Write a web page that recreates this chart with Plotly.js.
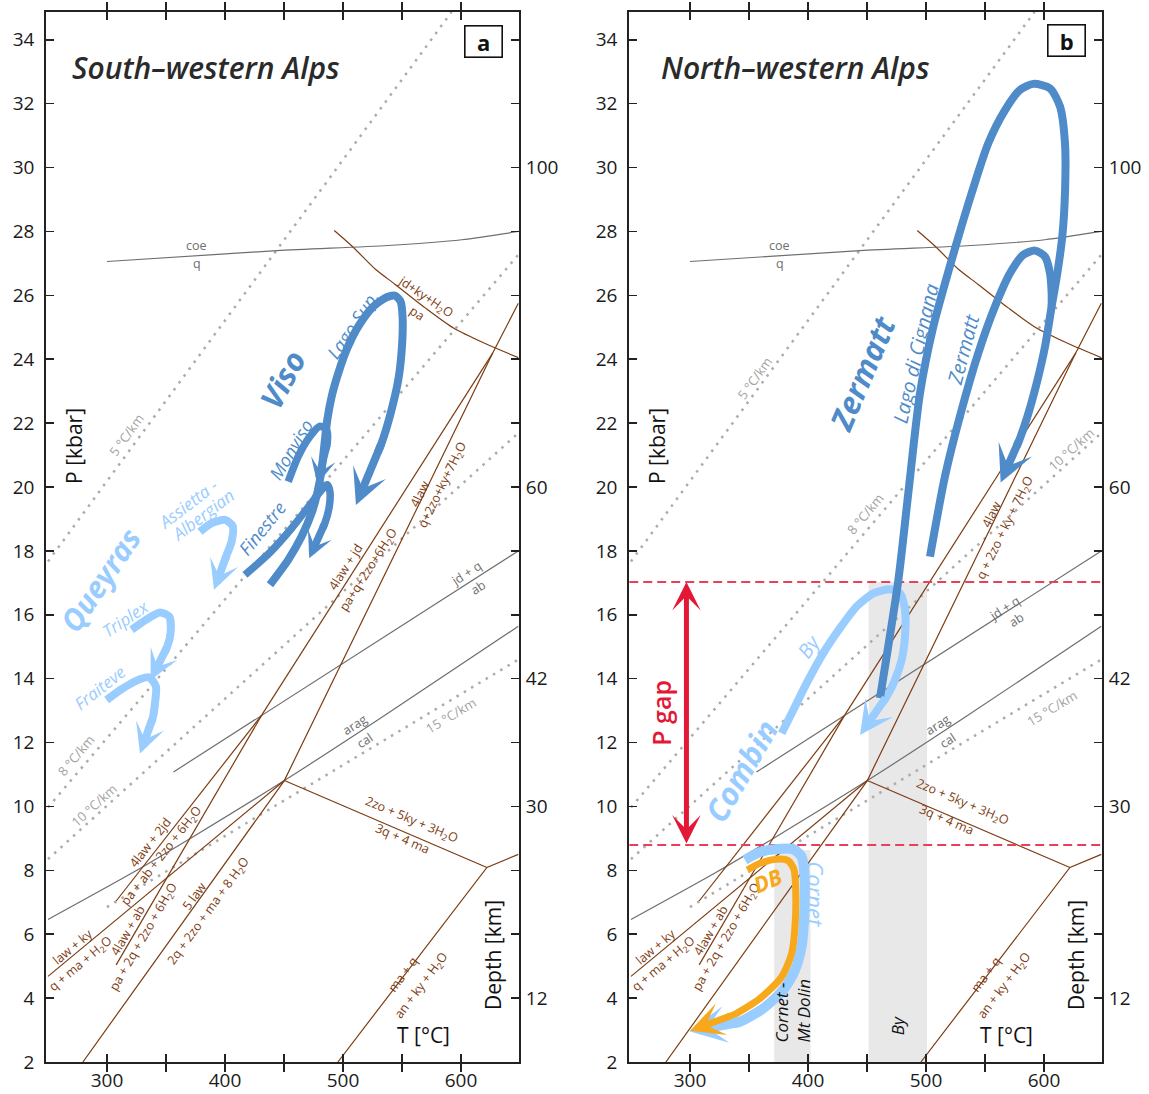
<!DOCTYPE html>
<html><head><meta charset="utf-8">
<script src="https://cdn.plot.ly/plotly-3.0.1.min.js"></script>
<style>body{margin:0;background:#fff}</style>
</head><body><div id="chart" style="width:1149px;height:1094px"></div>
<script>
// ================= DATA (T in °C, P in kbar) =================
// equilibrium / reaction lines (identical in both panels)
const coeQ_T = [300, 444, 538, 600.7, 648.6];
const coeQ_P = [27.06, 27.40, 27.56, 27.74, 28.00];
const jdKyPa_T = [492.6, 508, 528, 544, 570, 594, 620, 648.6];
const jdKyPa_P = [28.03, 27.53, 26.80, 26.35, 25.60, 24.97, 24.50, 24.05];
const law4jd_T = [431, 627];
const law4jd_P = [12.85, 24.2];
const law4_T = [279.6, 450.3, 627, 648.6];          // 5law / 4law reactions
const law4_P = [2.0, 10.81, 24.2, 25.75];
const law2jd_T = [307.8, 431];
const law2jd_P = [7.04, 12.85];
const law4ab_T = [307.8, 431];
const law4ab_P = [5.04, 12.85];
const lawKy_T = [250, 450.3];
const lawKy_P = [4.68, 10.81];
const zo5ky_T = [450.3, 622];
const zo5ky_P = [10.81, 8.09];
const maQ_T = [495.7, 622, 648.6];
const maQ_P = [2.0, 8.09, 8.5];
const jdQ_T = [356.4, 648.6];
const jdQ_P = [11.08, 18.0];
const aragCal_T = [250, 321.9, 372, 450.3, 531.7, 648.6];
const aragCal_P = [6.46, 7.93, 9.03, 10.81, 12.76, 15.64];
// geotherms
const geo5_T = [250, 592],   geo5_P = [17.67, 34.87];
const geo8_T = [250, 648.6], geo8_P = [9.97, 27.27];
const geo10_T = [250, 648.6], geo10_P = [8.35, 21.69];
const geo15_T = [300, 648.6], geo15_P = [6.85, 14.6];

// ---- panel a P-T paths ----
const lagoSup_T = [438.1,453.6,464.9,473.4,478.2,481.9,484.1,486.7,490.4,496.0,503.1,513.0,525.7,537.0,544.0,548.8,550.5,550.0,546.9,540.4,532.7];
const lagoSup_P = [16.94,17.72,18.45,19.18,19.81,20.54,21.27,22.10,22.83,23.56,24.30,25.03,25.65,25.94,25.99,25.81,25.34,24.40,23.36,22.31,21.37];
const lagoSupTip = [511, 19.44];
const monviso_T = [453.6,462.1,472.0,480.5,486.1,486.7];
const monviso_P = [20.17,20.96,21.58,21.90,21.79,21.37];
const monvisoTip = [478.2, 20.1];
const finestre_T = [416.9,438.1,456.5,472.0,481.9,486.7,488.9,488.4,484.7];
const finestre_P = [17.25,17.95,18.71,19.44,19.91,20.07,19.86,19.39,18.87];
const finestreTip = [471.4, 17.77];
const assietta_T = [378.8,388.7,400.0,406.5,405.6,401.4];
const assietta_P = [18.60,18.87,18.97,18.78,18.29,17.87];
const assiettaTip = [390.7, 16.78];
const triplex_T = [320.9,333.0,344.9,352.8,354.0,351.1];
const triplex_P = [15.53,15.84,16.07,15.94,15.47,15.00];
const triplexTip = [337, 13.96];
const fraiteve_T = [299.7,312.4,325.1,335.9,341.5,340.7,338.7];
const fraiteve_P = [13.33,13.67,13.94,14.04,13.75,13.23,12.76];
const fraiteveTip = [328, 11.66];

// ---- panel b P-T paths ----
const cignana_T = [461.0,476.6,485.0,494.9,506.2,521.8,538.7,552.8,567.0,579.7,591.0,605.1,613.6,617.8,617.8,615.5,611.3,606.5,600.9,593.8,585.9,579.1];
const cignana_P = [13.39,17.09,19.80,22.93,25.02,27.11,29.20,30.76,31.80,32.43,32.62,32.48,31.91,30.76,29.20,27.84,26.69,25.65,24.40,23.25,22.20,21.47];
const cignanaTip = [563.3, 20.14];
const zermatt_T = [503.4,516.1,530.2,544.3,558.5,571.2,582.5,592.4,600.9,605.1,606.5,606.5];
const zermatt_P = [17.82,20.33,22.41,24.19,25.65,26.69,27.27,27.40,27.21,26.69,26.06,25.65];
const by_T = [377.7,387.6,398.9,413.0,427.1,441.2,455.4,469.5,478.0,482.2,482.2,479.4,473.7,466.7];
const by_P = [12.29,13.02,13.86,14.80,15.58,16.26,16.67,16.80,16.67,16.15,15.32,14.59,13.96,13.44];
const byTip = [444.1, 12.24];
const cornet_T = [346.6,359.3,373.4,387.6,394.6,396.9,396.9,394.6,389.0,379.1,362.2,342.4];
const cornet_P = [8.33,8.57,8.67,8.66,8.43,7.91,6.66,5.61,4.88,4.26,3.68,3.26];
const cornetTip = [299.4, 2.96];
const db_T = [348.6,359.3,373.4,383.3,388.1,389.5,389.0,386.2,377.7,359.3,336.7];
const db_P = [8.01,8.22,8.35,8.30,8.03,7.49,6.24,5.40,4.67,3.99,3.47];
const dbTip = [300, 2.98];
// P gap and sample bands
const pGapLevels = [8.79, 17.03];
const pGapT = 297;
const bandCornet_T = [371.4, 402.2], bandCornet_P = [2, 8.64];
const bandBy_T = [451.4, 500.9], bandBy_P = [2, 17.03];

// axis ticks
const pTicks = [2,4,6,8,10,12,14,16,18,20,22,24,26,28,30,32,34];
const tTickVals = [300,350,400,450,500,550,600];
const tTickText = ['300','','400','','500','','600'];
const depthP = [4, 10, 14, 20, 30];
const depthKm = ['12','30','42','60','100'];

// ================= DRAWING =================
const FONT = '"Open Sans", "Noto Sans", sans-serif';
const BROWN = '#7d3c12', GRAY = '#6e6e6e', DOTC = '#ababab';
const DARKB = '#4f8bc9', LIGHTB = '#99ccff', ORANGE = '#f7a81b', RED = '#e31837';
const traces = [], annotations = [], shapes = [];
const XR = [248.5, 649], YR = [2, 34.87];
function ax(p){ return p === 'a' ? {x:'x', y:'y'} : {x:'x2', y:'y2'}; }
function line(p, T, P, color, width, dash, shape){
  const a = ax(p);
  traces.push({type:'scatter', mode:'lines', x:T, y:P, xaxis:a.x, yaxis:a.y,
    line:{color:color, width:width, dash:dash || 'solid', shape: shape || 'linear', smoothing:0.7},
    hoverinfo:'skip', showlegend:false});
}
function txt(p, s, T, P, ang, font, extra){
  const a = ax(p);
  annotations.push(Object.assign({xref:a.x, yref:a.y, x:T, y:P, text:s, textangle:ang, showarrow:false,
    xanchor:'center', yanchor:'middle', font:Object.assign({family:FONT, size:12.5, color:BROWN}, font||{})}, extra||{}));
}
function arrowPath(p, T, P, tip, color, width, head){
  const a = ax(p);
  const n = T.length;
  const eT = T[n-1] + 0.15*(tip[0]-T[n-1]);
  const eP = P[n-1] + 0.15*(tip[1]-P[n-1]);
  line(p, T.concat([eT]), P.concat([eP]), color, width, 'solid', 'spline');
  annotations.push({xref:a.x, yref:a.y, axref:a.x, ayref:a.y, x:tip[0], y:tip[1], ax:T[n-1], ay:P[n-1],
    text:'', showarrow:true, arrowhead:3, arrowsize:head, arrowwidth:width, arrowcolor:color,
    standoff:0, startstandoff:0, font:{size:1}});
}

['a','b'].forEach(function(p){
  // geotherms (dotted)
  [[geo5_T,geo5_P],[geo8_T,geo8_P],[geo10_T,geo10_P],[geo15_T,geo15_P]].forEach(function(g){
    line(p, g[0], g[1], DOTC, 2.5, '2.5px,6px');
  });
  // gray equilibria
  line(p, coeQ_T, coeQ_P, GRAY, 1.2, 'solid', 'spline');
  line(p, jdQ_T, jdQ_P, GRAY, 1.2);
  line(p, aragCal_T, aragCal_P, GRAY, 1.2, 'solid', 'spline');
  // brown reactions
  line(p, jdKyPa_T, jdKyPa_P, BROWN, 1.2, 'solid', 'spline');
  line(p, law4jd_T, law4jd_P, BROWN, 1.2);
  line(p, law4_T, law4_P, BROWN, 1.2);
  line(p, law2jd_T, law2jd_P, BROWN, 1.2);
  line(p, law4ab_T, law4ab_P, BROWN, 1.2);
  line(p, lawKy_T, lawKy_P, BROWN, 1.2);
  line(p, zo5ky_T, zo5ky_P, BROWN, 1.2);
  line(p, maQ_T, maQ_P, BROWN, 1.2);
  // gray labels
  txt(p, 'coe', 376, 27.55, 0, {color:GRAY});
  txt(p, 'q', 376, 26.99, 0, {color:GRAY});
  txt(p, 'arag', 510.3, 12.55, -33, {color:GRAY});
  txt(p, 'cal', 518.8, 12.05, -33, {color:GRAY});
  // common brown labels
  txt(p, 'law + ky', 271, 5.62, -40);
  txt(p, 'q + ma + H<sub>2</sub>O', 277.5, 5.06, -40);
  txt(p, '4law + ab', 317.5, 6.12, -60);
  txt(p, 'pa + 2q + 2zo + 6H<sub>2</sub>O', 331, 5.9, -60);
  txt(p, 'ma + q', 550.7, 4.74, -53);
  txt(p, 'an + ky + H<sub>2</sub>O', 566.7, 4.4, -53);
  // axis titles inside frame
  txt(p, 'P [kbar]', 272.5, 21.27, -90, {size:21, color:'#111'});
  txt(p, 'Depth [km]', 626.5, 5.36, -90, {size:21, color:'#111'});
  txt(p, 'T [°C]', 568.5, 2.84, 0, {size:21, color:'#111'});
});

// ---- panel a specific labels ----
txt('a', 'jd+ky+H<sub>2</sub>O', 570, 25.94, 34);
txt('a', 'pa', 563, 25.44, 34);
txt('a', '4law + jd', 502.5, 17.5, -57.5);
txt('a', 'pa+q+2zo+6H<sub>2</sub>O', 521.5, 17.4, -57.5);
txt('a', '4law', 564.6, 19.78, -64);
txt('a', 'q+2zo+ky+7H<sub>2</sub>O', 585, 20.07, -64);
txt('a', '2zo + 5ky + 3H<sub>2</sub>O', 558.4, 9.56, 23);
txt('a', '3q + 4 ma', 550.5, 9.0, 23);
txt('a', '4law + 2jd', 336.6, 8.87, -52);
txt('a', 'pa + ab + 2zo + 6H<sub>2</sub>O', 347, 8.45, -52);
txt('a', '5 law', 373.6, 7.19, -54);
txt('a', '2q + 2zo + ma + 8 H<sub>2</sub>O', 386, 6.72, -54);
txt('a', 'jd + q', 604.4, 17.28, -33, {color:GRAY});
txt('a', 'ab', 614.7, 16.84, -33, {color:GRAY});
txt('a', '5 °C/km', 316.3, 21.64, -54, {size:13, color:'#a3a3a3'});
txt('a', '8 °C/km', 274, 11.6, -50, {size:13, color:'#a3a3a3'});
txt('a', '10 °C/km', 289, 10.05, -42, {size:13, color:'#a3a3a3'});
txt('a', '15 °C/km', 591.9, 12.86, -31, {size:13, color:'#a3a3a3'});

// ---- panel b specific labels ----
txt('b', '4law', 555.4, 19.14, -64);
txt('b', 'q + 2zo + ky + 7H<sub>2</sub>O', 567.7, 18.72, -64);
txt('b', '2zo + 5ky + 3H<sub>2</sub>O', 530.8, 10.13, 23);
txt('b', '3q + 4 ma', 517.5, 9.59, 23);
txt('b', 'jd + q', 566.2, 16.2, -33, {color:GRAY});
txt('b', 'ab', 576.9, 15.85, -33, {color:GRAY});
txt('b', '5 °C/km', 355, 23.4, -54, {size:13, color:'#a3a3a3'});
txt('b', '8 °C/km', 448.3, 19.16, -50, {size:13, color:'#a3a3a3'});
txt('b', '10 °C/km', 623, 21.2, -42, {size:13, color:'#a3a3a3'});
txt('b', '15 °C/km', 606.8, 13.09, -31, {size:13, color:'#a3a3a3'});

// ---- bands & P gap (panel b) ----
shapes.push({type:'rect', xref:'x2', yref:'y2', x0:bandCornet_T[0], x1:bandCornet_T[1], y0:bandCornet_P[0], y1:bandCornet_P[1], fillcolor:'#e8e8e8', line:{width:0}, layer:'below'});
shapes.push({type:'rect', xref:'x2', yref:'y2', x0:bandBy_T[0], x1:bandBy_T[1], y0:bandBy_P[0], y1:bandBy_P[1], fillcolor:'#e8e8e8', line:{width:0}, layer:'below'});
pGapLevels.forEach(function(lv){ line('b', XR, [lv, lv], '#e8405a', 2, '9px,5px'); });
annotations.push({xref:'x2', yref:'y2', axref:'x2', ayref:'y2', x:pGapT, y:pGapLevels[1], ax:pGapT, ay:pGapLevels[0],
  text:'', showarrow:true, arrowside:'end+start', arrowhead:3, startarrowhead:3, arrowsize:0.95, startarrowsize:0.95,
  arrowwidth:5, arrowcolor:RED, standoff:0, startstandoff:0, font:{size:1}});

// ---- P-T paths ----
arrowPath('a', assietta_T, assietta_P, assiettaTip, LIGHTB, 8, 0.62);
arrowPath('a', triplex_T, triplex_P, triplexTip, LIGHTB, 8, 0.62);
arrowPath('a', fraiteve_T, fraiteve_P, fraiteveTip, LIGHTB, 8, 0.62);
arrowPath('a', finestre_T, finestre_P, finestreTip, DARKB, 7.5, 0.58);
arrowPath('a', monviso_T, monviso_P, monvisoTip, DARKB, 7.5, 0.56);
arrowPath('a', lagoSup_T, lagoSup_P, lagoSupTip, DARKB, 8, 0.74);

arrowPath('b', by_T, by_P, byTip, LIGHTB, 8, 0.7);
arrowPath('b', cignana_T, cignana_P, cignanaTip, DARKB, 8, 0.76);
line('b', zermatt_T, zermatt_P, DARKB, 8, 'solid', 'spline');
arrowPath('b', cornet_T, cornet_P, cornetTip, LIGHTB, 10, 0.62);
arrowPath('b', db_T, db_P, dbTip, ORANGE, 7, 0.8);

// ---- path names ----
const BI = {weight:'bold', style:'italic'};
txt('a', 'Viso', 448.6, 23.38, -62, Object.assign({size:31, color:DARKB}, BI));
txt('a', 'Lago Sup.', 507.9, 25.08, -56, {size:18, color:DARKB, style:'italic'});
txt('a', 'Monviso', 455.6, 21.16, -59, {size:18, color:DARKB, style:'italic'});
txt('a', 'Finestre', 431.6, 18.71, -51, {size:18, color:DARKB, style:'italic'});
txt('a', 'Queyras', 294.6, 17.09, -56, Object.assign({size:30, color:LIGHTB}, BI));
txt('a', 'Assietta -', 368.9, 19.47, -37.5, {size:17, color:LIGHTB, style:'italic'});
txt('a', 'Albergian', 381.6, 19.13, -37, {size:17, color:LIGHTB, style:'italic'});
txt('a', 'Triplex', 315.8, 15.87, -34, {size:17, color:LIGHTB, style:'italic'});
txt('a', 'Fraiteve', 294, 13.73, -38, {size:17, color:LIGHTB, style:'italic'});

txt('b', 'Zermatt', 446, 23.56, -67, Object.assign({size:31, color:DARKB}, BI));
txt('b', 'Lago di Cignana', 491, 24.19, -77, {size:20, color:DARKB, style:'italic'});
txt('b', 'Zermatt', 531.5, 24.3, -75, {size:20, color:DARKB, style:'italic'});
txt('b', 'By', 400.3, 15.02, -55, {size:20, color:LIGHTB, style:'italic'});
txt('b', 'Combin', 342.9, 11.12, -60, Object.assign({size:31, color:LIGHTB}, BI));
txt('b', 'DB', 365.5, 7.7, -22, Object.assign({size:22, color:ORANGE}, BI));
txt('b', 'Cornet', 406.5, 7.26, 90, {size:22, color:LIGHTB, style:'italic'});
txt('b', 'P gap', 276, 12.92, -90, {size:25, color:RED, weight:600});
txt('b', 'Cornet -<br>Mt Dolin', 386.7, 3.62, -90, {size:17, color:'#111', style:'italic'}, {align:'left'});
txt('b', 'By', 475.4, 3.15, -90, {size:17, color:'#111', style:'italic'});

// ---- panel titles and letters ----
txt('a', 'South–western Alps', 269, 33.12, 0, {size:30, color:'#2a2a2a', style:'italic', weight:600}, {xanchor:'left'});
txt('b', 'North–western Alps', 274, 33.12, 0, {size:30, color:'#2a2a2a', style:'italic', weight:600}, {xanchor:'left'});
txt('a', 'a', 619, 33.95, 0, {size:22, color:'#111', weight:'bold'}, {bordercolor:'#111', borderwidth:1.6, borderpad:3, bgcolor:'#fff', width:30, height:24});
txt('b', 'b', 619.5, 33.97, 0, {size:22, color:'#111', weight:'bold'}, {bordercolor:'#111', borderwidth:1.6, borderpad:3, bgcolor:'#fff', width:30, height:24});

// dummy traces for depth axes
traces.push({type:'scatter', x:[], y:[], xaxis:'x', yaxis:'y3', showlegend:false, hoverinfo:'skip'});
traces.push({type:'scatter', x:[], y:[], xaxis:'x2', yaxis:'y4', showlegend:false, hoverinfo:'skip'});

const tickFont = {family:FONT, size:19, color:'#1a1a1a'};
function xAxis(dom, anchor){
  return {domain:dom, anchor:anchor, range:XR, tickmode:'array', tickvals:tTickVals, ticktext:tTickText,
    ticks:'inside', ticklen:8, tickwidth:1.5, tickcolor:'#222', showline:true, linewidth:2, linecolor:'#222',
    mirror:'allticks', showgrid:false, zeroline:false, tickfont:tickFont, ticklabelstandoff:0};
}
function yAxis(anchor){
  return {domain:[0,1], anchor:anchor, range:YR, tickmode:'array', tickvals:pTicks,
    ticks:'inside', ticklen:8, tickwidth:1.5, tickcolor:'#222', showline:true, linewidth:2, linecolor:'#222',
    mirror:'allticks', showgrid:false, zeroline:false, tickfont:tickFont, ticklabelstandoff:6};
}
function depthAxis(over, anchor){
  return {overlaying:over, anchor:anchor, side:'right', range:YR, tickmode:'array', tickvals:depthP, ticktext:depthKm,
    ticks:'', showline:false, showgrid:false, zeroline:false, tickfont:tickFont, ticklabelstandoff:6};
}
const layout = {
  width:1149, height:1094, margin:{l:0, r:0, t:12, b:32},
  paper_bgcolor:'#fff', plot_bgcolor:'#fff', showlegend:false, hovermode:false,
  font:{family:FONT},
  xaxis: xAxis([0.04021, 0.45152], 'y'),
  yaxis: yAxis('x'),
  xaxis2: xAxis([0.54761, 0.95892], 'y2'),
  yaxis2: yAxis('x2'),
  yaxis3: depthAxis('y', 'x'),
  yaxis4: depthAxis('y2', 'x2'),
  annotations: annotations,
  shapes: shapes
};
Plotly.newPlot('chart', traces, layout, {staticPlot:true, displayModeBar:false});
</script></body></html>
